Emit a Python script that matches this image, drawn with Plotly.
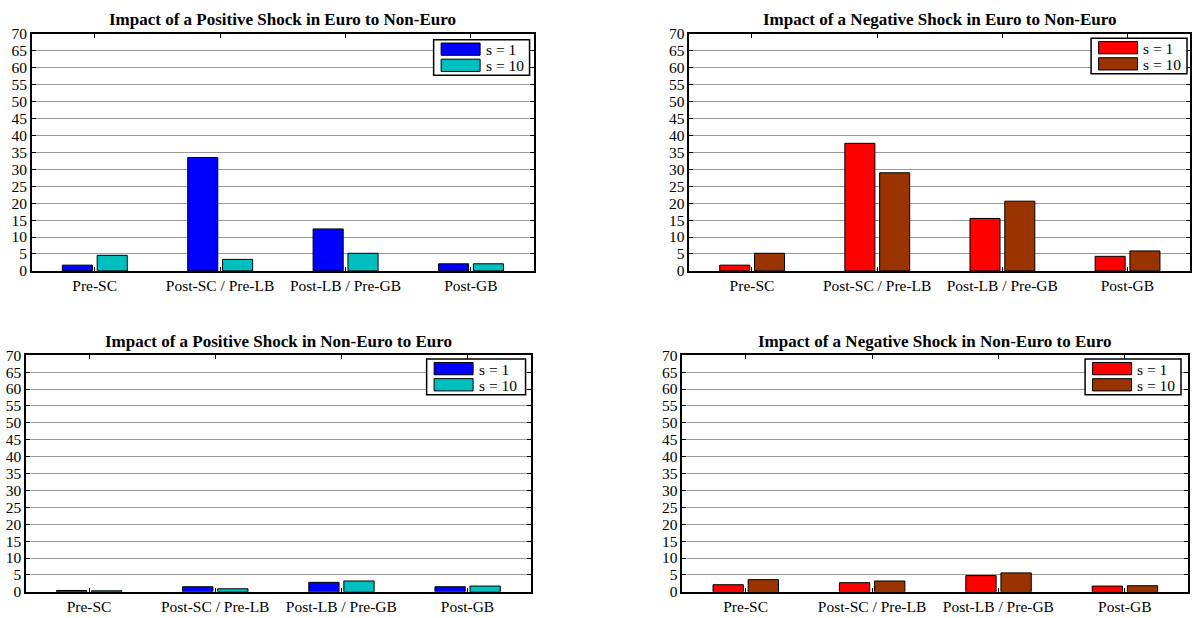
import plotly.graph_objects as go

W, H = 1192, 618

categories = ["Pre-SC", "Post-SC / Pre-LB", "Post-LB / Pre-GB", "Post-GB"]
series_names = ["s = 1", "s = 10"]

pos_euro_to_non_s1 = [1.7, 33.5, 12.4, 2.1]
pos_euro_to_non_s10 = [4.6, 3.4, 5.2, 2.1]
neg_euro_to_non_s1 = [1.7, 37.7, 15.5, 4.3]
neg_euro_to_non_s10 = [5.2, 29.0, 20.6, 5.9]
pos_non_to_euro_s1 = [0.4, 1.5, 2.8, 1.5]
pos_non_to_euro_s10 = [0.3, 0.9, 3.2, 1.7]
neg_non_to_euro_s1 = [2.1, 2.7, 4.8, 1.7]
neg_non_to_euro_s10 = [3.6, 3.2, 5.6, 1.8]

titles = [
    "Impact of a Positive Shock in Euro to Non-Euro",
    "Impact of a Negative Shock in Euro to Non-Euro",
    "Impact of a Positive Shock in Non-Euro to Euro",
    "Impact of a Negative Shock in Non-Euro to Euro",
]

blue_pair = ["#0000FF", "#00BFBF"]
red_pair = ["#FF0000", "#993300"]

panels = [
    dict(s1=pos_euro_to_non_s1, s10=pos_euro_to_non_s10, colors=blue_pair, title=titles[0],
         box=(32, 534, 25.7, 269.3), leg=(434, 530, 31.5)),
    dict(s1=neg_euro_to_non_s1, s10=neg_euro_to_non_s10, colors=red_pair, title=titles[1],
         box=(690, 1191, 25.7, 269.3), leg=(1092, 1188, 30)),
    dict(s1=pos_non_to_euro_s1, s10=pos_non_to_euro_s10, colors=blue_pair, title=titles[2],
         box=(26, 531, 356, 599.3), leg=(427, 526, 360)),
    dict(s1=neg_non_to_euro_s1, s10=neg_non_to_euro_s10, colors=red_pair, title=titles[3],
         box=(683, 1189, 356, 599.3), leg=(1086, 1182, 360)),
]

FONT = "Liberation Serif, Times New Roman, serif"
TICK_SIZE = 15.5
TITLE_SIZE = 17

def px(x):
    return x / W

def py(y):
    return 1 - y / H

fig = go.Figure()
shapes = []
annotations = []
xcenters = [1, 2, 3, 4]

for i, p in enumerate(panels):
    n = "" if i == 0 else str(i + 1)
    xa, ya = "x" + n, "y" + n
    x0, x1, y0, y1 = p["box"]
    for vals, col, off, name in [(p["s1"], p["colors"][0], -0.258, series_names[0]),
                                  (p["s10"], p["colors"][1], 0.02, series_names[1])]:
        fig.add_trace(go.Bar(
            x=xcenters, y=vals, width=0.24, offset=off, name=name,
            marker=dict(color=col, line=dict(color="black", width=1)),
            xaxis=xa, yaxis=ya, showlegend=False,
        ))
    axis_common = dict(showline=True, linecolor="black", linewidth=1.5, mirror="ticks",
                       ticks="inside", ticklen=4, tickcolor="black", tickwidth=1,
                       tickfont=dict(family=FONT, size=TICK_SIZE, color="black"), zeroline=False)
    fig.layout["xaxis" + n] = dict(
        domain=[px(x0), px(x1)], anchor=ya, range=[0.5, 4.5],
        tickmode="array", tickvals=xcenters, ticktext=categories,
        showgrid=False, **axis_common)
    fig.layout["yaxis" + n] = dict(
        domain=[py(y1), py(y0)], anchor=xa, range=[0, 70],
        tickmode="array", tickvals=list(range(0, 71, 5)),
        showgrid=True, gridcolor="#9a9a9a", gridwidth=1, **axis_common)
    annotations.append(dict(
        text="<b>" + p["title"] + "</b>", xref="paper", yref="paper",
        x=px((x0 + x1) / 2), y=py(y0 - 14.5), xanchor="center", yanchor="middle",
        showarrow=False, font=dict(family=FONT, size=TITLE_SIZE, color="black")))
    lx0, lx1, ly0 = p["leg"]
    ly1 = ly0 + 36.6
    shapes.append(dict(type="rect", xref="paper", yref="paper",
                       x0=px(lx0), x1=px(lx1), y0=py(ly1), y1=py(ly0),
                       line=dict(color="black", width=1.5), fillcolor="white", layer="above"))
    for k in range(2):
        ry0 = ly0 + 3.5 + k * 16.6
        shapes.append(dict(type="rect", xref="paper", yref="paper",
                           x0=px(lx0 + 7.5), x1=px(lx0 + 46.5), y0=py(ry0 + 12.6), y1=py(ry0),
                           line=dict(color="black", width=1), fillcolor=p["colors"][k], layer="above"))
        annotations.append(dict(
            text=series_names[k], xref="paper", yref="paper",
            x=px(lx0 + 50), y=py(ry0 + 6.8), xanchor="left", yanchor="middle",
            showarrow=False, font=dict(family=FONT, size=TICK_SIZE, color="black")))

fig.update_layout(
    width=W, height=H, margin=dict(l=0, r=0, t=0, b=0),
    paper_bgcolor="white", plot_bgcolor="white",
    barmode="overlay", showlegend=False,
    shapes=shapes, annotations=annotations,
)

fig.write_html("out.html", config={"displayModeBar": False},
               post_script="document.body.style.margin='0';document.body.style.padding='0';")
